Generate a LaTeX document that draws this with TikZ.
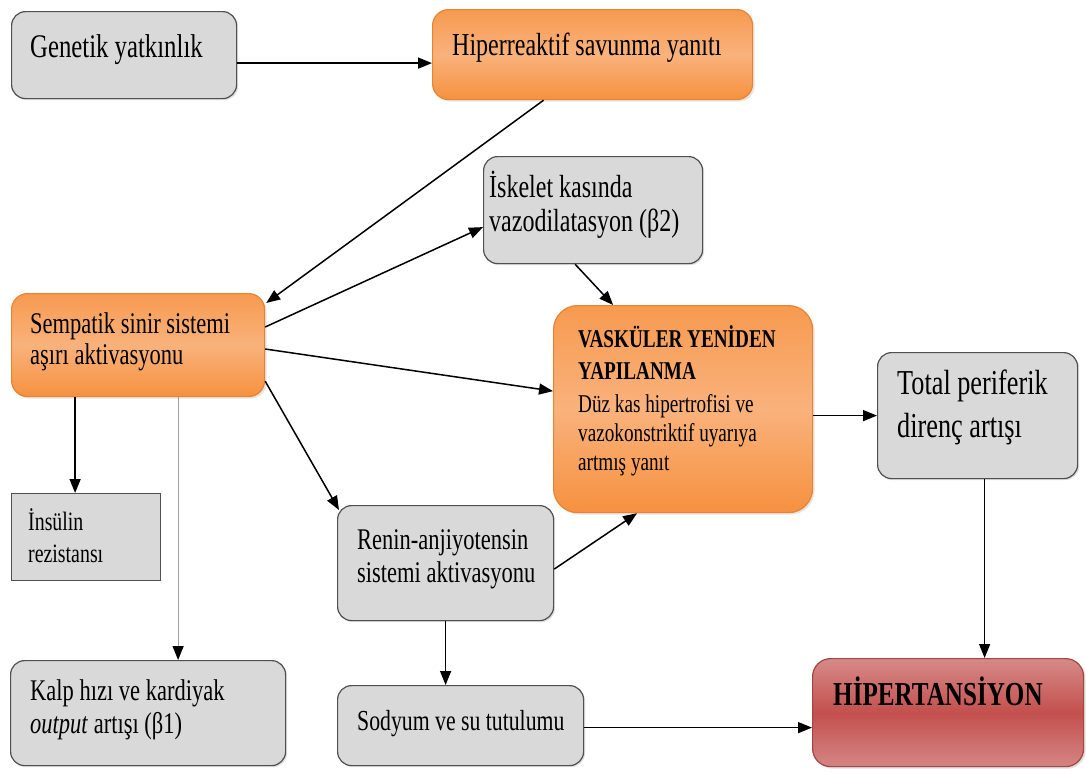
\documentclass[tikz,border=0pt]{standalone}
\usepackage{fontspec}
\setmainfont{Liberation Serif}[FakeStretch=0.75]
\usetikzlibrary{arrows.meta,shadows}
\definecolor{gfill}{HTML}{D9D9D9}
\definecolor{gdraw}{HTML}{505050}
\definecolor{oTop}{HTML}{F79A50}
\definecolor{oMid}{HTML}{F9B27C}
\definecolor{oBot}{HTML}{F6913F}
\definecolor{oDraw}{HTML}{E8842F}
\definecolor{rTop}{HTML}{D68A88}
\definecolor{rMid}{HTML}{C3504E}
\definecolor{rBot}{HTML}{D48583}
\definecolor{rDraw}{HTML}{A34543}
\newcommand{\fsz}[2]{\fontsize{#1}{#2}\selectfont}
\begin{document}
\begin{tikzpicture}[x=1pt,y=-1pt,
  box/.style={anchor=north west, inner sep=0pt, line width=1.2pt},
  gbox/.style={box, draw=gdraw, fill=gfill, rounded corners=14pt,
    drop shadow={opacity=0.25, shadow xshift=1.5pt, shadow yshift=-1.5pt}},
  obox/.style={box, draw=oDraw, top color=oTop, bottom color=oBot, middle color=oMid, rounded corners=16pt,
    drop shadow={opacity=0.2, shadow xshift=2pt, shadow yshift=-2pt}},
  rbox/.style={box, draw=rDraw, top color=rTop, bottom color=rBot, middle color=rMid, rounded corners=18pt,
    drop shadow={opacity=0.25, shadow xshift=2pt, shadow yshift=-2pt}},
  sbox/.style={box, draw=gdraw, fill=gfill},
  txt/.style={anchor=base west, inner sep=0pt, text=black},
  arr/.style={-{Triangle[length=14pt,width=11pt]}, line width=1.5pt, draw=black},
  garr/.style={-{Triangle[length=14pt,width=11pt,color=black]}, line width=1.2pt, draw=gray!75}
]
\useasboundingbox (0,0) rectangle (1086,772);
\fill[white] (0,0) rectangle (1086,772);

% boxes
\node[gbox, minimum width=225pt, minimum height=87pt] (gen) at (11,11) {};
\node[obox, minimum width=320pt, minimum height=90pt] (hyp) at (432,9) {};
\node[gbox, minimum width=219pt, minimum height=107pt] (isk) at (483,156) {};
\node[obox, minimum width=253pt, minimum height=103pt] (symp) at (11,293) {};
\node[obox, minimum width=259pt, minimum height=207pt, rounded corners=24pt] (vask) at (553,305) {};
\node[gbox, minimum width=200pt, minimum height=126pt] (tot) at (877,352) {};
\node[sbox, minimum width=149pt, minimum height=87pt] (ins) at (11,493) {};
\node[gbox, minimum width=216pt, minimum height=115pt] (ren) at (337,505) {};
\node[gbox, minimum width=275pt, minimum height=105pt] (kalp) at (10,660) {};
\node[gbox, minimum width=246pt, minimum height=80pt] (sod) at (337,685) {};
\node[rbox, minimum width=271pt, minimum height=108pt] (hip) at (812,658) {};

% texts
\node[txt, font=\fsz{33}{36}] (genT) at (30,57) {Genetik yatkınlık};
\node[txt, font=\fsz{32}{36}] (hypT) at (452,55) {Hiperreaktif savunma yanıtı};
\node[txt, font=\fsz{32}{36}] (iskT1) at (489,197) {İskelet kasında};
\node[txt, font=\fsz{32}{36}] (iskT2) at (489,231) {vazodilatasyon (β2)};
\node[txt, font=\fsz{30}{33}] (sympT1) at (30,333) {Sempatik sinir sistemi};
\node[txt, font=\fsz{30}{33}] (sympT2) at (30,364) {aşırı aktivasyonu};
\node[txt, font=\fsz{25.6}{30}\bfseries] (vaskT1) at (578,347) {VASKÜLER YENİDEN};
\node[txt, font=\fsz{25.6}{30}\bfseries] (vaskT2) at (578,379) {YAPILANMA};
\node[txt, font=\fsz{25.6}{30}] (vaskT3) at (578,412) {Düz kas hipertrofisi ve};
\node[txt, font=\fsz{25.6}{30}] (vaskT4) at (578,441) {vazokonstriktif uyarıya};
\node[txt, font=\fsz{25.6}{30}] (vaskT5) at (578,470) {artmış yanıt};
\node[txt, font=\fsz{35}{40}] (totT1) at (897,394) {Total periferik};
\node[txt, font=\fsz{35}{40}] (totT2) at (897,437) {direnç artışı};
\node[txt, font=\fsz{26.5}{30}] (insT1) at (28,530) {İnsülin};
\node[txt, font=\fsz{26.5}{30}] (insT2) at (28,562) {rezistansı};
\node[txt, font=\fsz{30}{33}] (renT1) at (357,549) {Renin-anjiyotensin};
\node[txt, font=\fsz{30}{33}] (renT2) at (357,582) {sistemi aktivasyonu};
\node[txt, font=\fsz{30}{33}] (kalpT1) at (30,700) {Kalp hızı ve kardiyak};
\node[txt, font=\fsz{30}{33}] (kalpT2) at (30,733) {\textit{output} artışı (β1)};
\node[txt, font=\fsz{29}{33}] (sodT) at (357,730) {Sodyum ve su tutulumu};
\node[txt, font=\fsz{33.5}{38}\bfseries] (hipT) at (833,705) {HİPERTANSİYON};

% connectors
\draw[arr] ([yshift=-8pt]gen.east) -- ([yshift=-8pt]gen.east -| hyp.west);
\draw[arr] ([xshift=-49pt]hyp.south) -- ([xshift=1pt,yshift=-10pt]symp.north east);
\draw[arr] ([yshift=-34pt]symp.north east) -- ([yshift=-17pt]isk.west);
\draw[arr] ([yshift=-56pt]symp.north east) -- ([yshift=18pt]vask.west);
\draw[arr] ([yshift=16pt]symp.south east) -- ([xshift=2pt,yshift=-5pt]ren.north west);
\draw[arr] ([xshift=-63pt]symp.south) -- ([xshift=-63pt]symp.south |- ins.north);
\draw[garr] ([xshift=40pt]symp.south) -- ([xshift=40pt]symp.south |- kalp.north);
\draw[arr] ([xshift=-18pt]isk.south) -- ([xshift=-70pt]vask.north);
\draw[arr] ([yshift=-6pt]ren.east) -- ([xshift=-46pt]vask.south);
\draw[arr] (tot.west -| vask.east) -- (tot.west);
\draw[arr] ([xshift=7pt]tot.south) -- ([xshift=7pt]tot.south |- hip.north);
\draw[arr] (ren.south) -- (ren.south |- sod.north);
\draw[arr] ([yshift=-2pt]sod.east) -- ([yshift=-2pt]sod.east -| hip.west);
\end{tikzpicture}
\end{document}
